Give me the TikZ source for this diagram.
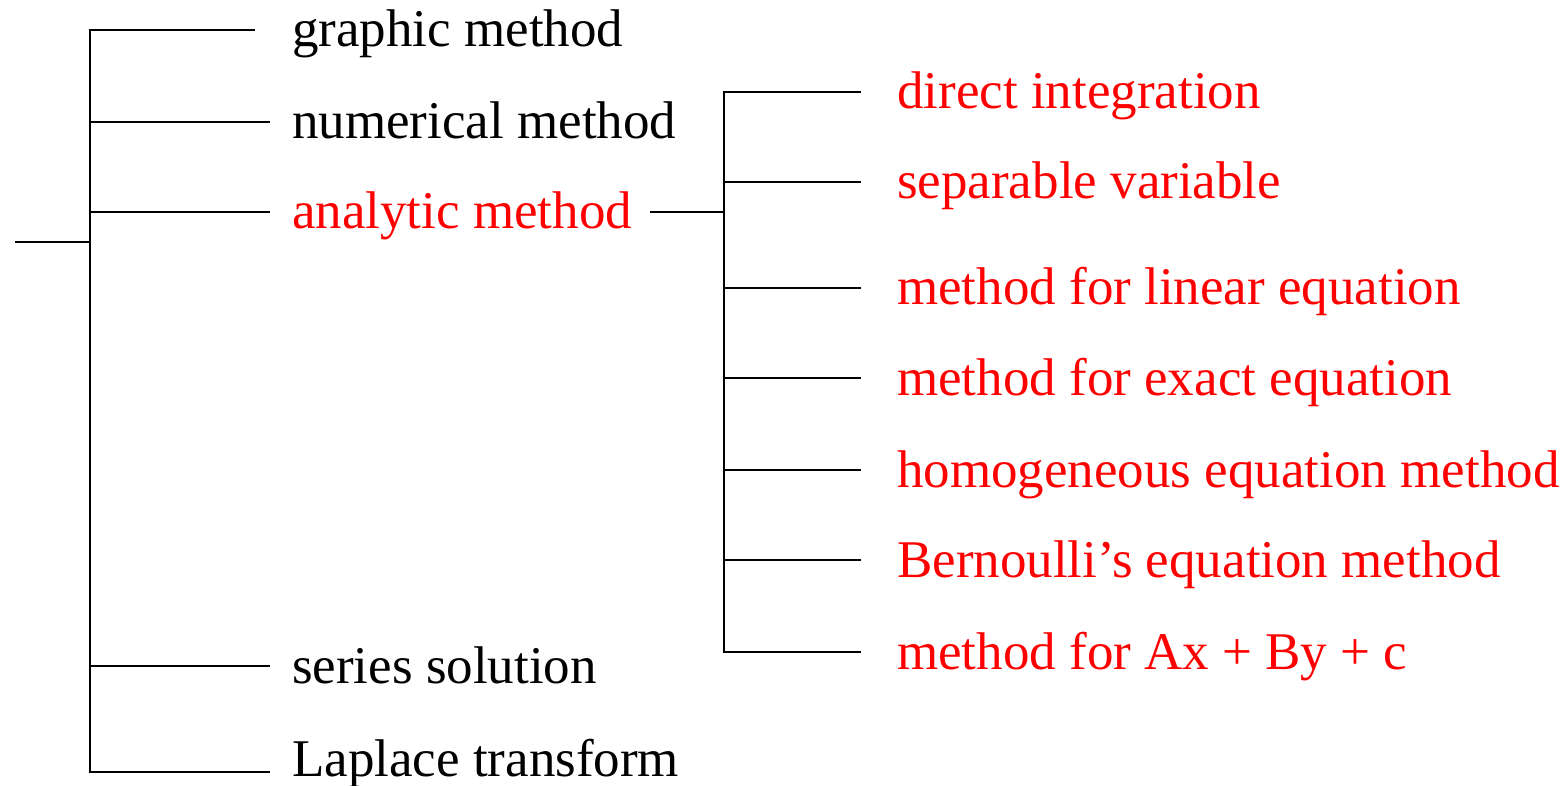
\documentclass[tikz,border=0pt]{standalone}
\usepackage{fontspec}
\setmainfont{Liberation Serif}
\begin{document}
\begin{tikzpicture}[x=1pt,y=-1pt,line width=2.3pt,
  lbl/.style={anchor=base west,inner sep=0pt,font=\fontsize{53}{60}\selectfont},
  hl/.style={lbl,text=red}]
\useasboundingbox (0,0) rectangle (1568,786);
% left column
\node[lbl] (g) at (291,47) {graphic method};
\node[lbl] (n) at (291,139) {numerical method};
\node[hl]  (a) at (291,229) {analytic method};
\node[lbl] (s) at (291,683) {series solution};
\node[lbl] (l) at (291,776) {Laplace transform};
% right column
\node[hl] (d1) at (896,109) {direct integration};
\node[hl] (d2) at (896,199) {separable variable};
\node[hl] (d3) at (896,305) {method for linear equation};
\node[hl] (d4) at (896,395) {method for exact equation};
\node[hl] (d5) at (896,487) {homogeneous equation method};
\node[hl] (d6) at (896,577) {Bernoulli’s equation method};
\node[hl] (d7) at (896,669) {method for Ax + By + c};
% coordinates
\coordinate (root) at (15,242);
\coordinate (rj) at (90,242);
\coordinate (gt) at (255,30);  \coordinate (gj) at (90,30);
\coordinate (nt) at (270,122); \coordinate (nj) at (90,122);
\coordinate (at) at (270,212); \coordinate (aj) at (90,212);
\coordinate (st) at (270,666); \coordinate (sj) at (90,666);
\coordinate (lt) at (270,772); \coordinate (lj) at (90,772);
\coordinate (as) at (650,212); \coordinate (bj) at (724,212);
\foreach \i/\y in {1/92,2/182,3/288,4/378,5/470,6/560,7/652}{
  \coordinate (j\i) at (724,\y);
  \coordinate (e\i) at (861,\y);
}
% connectors
\draw (root) -- (rj);
\draw (gt) -- (gj) -- (lj) -- (lt);
\draw (nj) -- (nt);
\draw (aj) -- (at);
\draw (sj) -- (st);
\draw (as) -- (bj);
\draw (e1) -- (j1) -- (j7) -- (e7);
\foreach \i in {2,...,6}{\draw (j\i) -- (e\i);}
\end{tikzpicture}
\end{document}
